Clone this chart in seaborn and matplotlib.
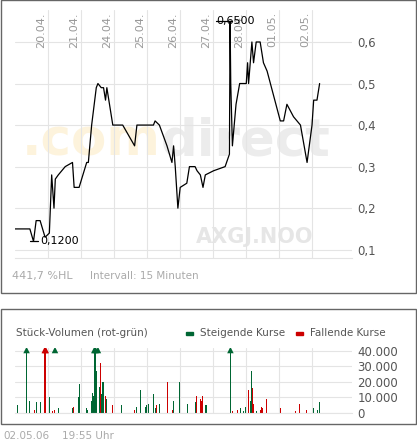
import numpy as np
import pandas as pd
import seaborn as sns
import matplotlib.pyplot as plt
from matplotlib.patches import Rectangle
from matplotlib.ticker import FuncFormatter

# --------------------- data ---------------------
date_labels = ["20.04.", "21.04.", "24.04.", "25.04.", "26.04.", "27.04.", "28.04.", "01.05.", "02.05."]

# x in "day units" (gridline i = date_labels[i-1])
price_x = [0.00, 0.45, 0.56, 0.64, 0.76, 0.91, 1.04, 1.11, 1.18, 1.22, 1.31, 1.52, 1.74, 1.79,
           1.94, 2.17, 2.22, 2.32, 2.46, 2.51, 2.61, 2.68, 2.74, 2.78, 2.96, 3.26, 3.62, 3.69,
           4.19, 4.24, 4.37, 4.60, 4.75, 4.80, 4.85, 4.93, 5.00, 5.20, 5.28, 5.45, 5.51, 5.61,
           5.69, 5.76, 6.01, 6.36, 6.49, 6.51, 6.53, 6.58, 6.69, 6.80, 7.00, 7.04, 7.07, 7.17,
           7.22, 7.30, 7.42, 7.52, 7.63, 8.03, 8.13, 8.23, 8.43, 8.64, 8.84, 8.99, 9.04, 9.14, 9.22]
price_y = [0.15, 0.15, 0.12, 0.17, 0.17, 0.13, 0.14, 0.28, 0.20, 0.27, 0.28, 0.30, 0.31, 0.25,
           0.25, 0.31, 0.31, 0.40, 0.49, 0.50, 0.49, 0.49, 0.46, 0.49, 0.40, 0.40, 0.35, 0.40,
           0.40, 0.41, 0.40, 0.35, 0.31, 0.35, 0.30, 0.20, 0.25, 0.26, 0.30, 0.30, 0.29, 0.28,
           0.25, 0.28, 0.29, 0.30, 0.33, 0.65, 0.50, 0.35, 0.45, 0.50, 0.50, 0.55, 0.50, 0.60,
           0.55, 0.60, 0.60, 0.55, 0.53, 0.41, 0.41, 0.45, 0.42, 0.40, 0.31, 0.40, 0.46, 0.46, 0.50]

vol_x = [0.07, 0.12, 0.35, 0.43, 0.59, 0.66, 0.77, 0.90, 0.93, 1.04, 1.13, 1.19, 1.21, 1.31,
         1.74, 1.76, 1.92, 1.95, 2.16, 2.19, 2.27, 2.31, 2.34, 2.37, 2.40, 2.42, 2.44, 2.46,
         2.48, 2.51, 2.55, 2.58, 2.61, 2.65, 2.68, 2.75, 2.77, 2.95, 3.22, 3.62, 3.68, 3.80,
         3.95, 3.99, 4.05, 4.09, 4.15, 4.19, 4.25, 4.28, 4.37, 4.62, 4.77, 4.80, 4.93, 4.98,
         5.22, 5.27, 5.46, 5.49, 5.62, 5.65, 5.68, 5.76, 5.79, 6.36, 6.45, 6.48, 6.52, 6.58,
         6.63, 6.66, 6.73, 6.82, 6.92, 6.97, 7.02, 7.07, 7.13, 7.16, 7.19, 7.22, 7.30, 7.44,
         7.47, 7.50, 7.62, 8.03, 8.11, 8.20, 8.48, 8.62, 8.82, 9.04, 9.14, 9.16, 9.22]
vol_k = [5, 1, 42, 8, 2, 7, 7, 42, 42, 10, 1, 2, 42, 3,
         3, 4, 10, 19, 3, 2, 2, 8, 13, 11, 42, 35, 42, 27,
         40, 42, 17, 32, 12, 20, 20, 11, 9, 5, 5, 2, 4, 15,
         4, 5, 6, 1, 3, 12, 3, 5, 6, 20, 2, 8, 1, 20,
         6, 5, 7, 11, 9, 8, 11, 5, 5, 3, 5, 5, 42, 1,
         10, 3, 2, 3, 1, 4, 4, 15, 8, 27, 16, 6, 1, 2,
         4, 3, 9, 3, 2, 1, 1, 6, 2, 3, 5, 2, 7]
vol_dir = list("ggggrggrrg" "rrgggrgggg" "gggggggggg" "grgggrgrgr" "gggggggggr"
               "grrgrggggr" "rrrggggggr" "ggrggggrgg" "rrgrrrrrgg" "rrrgggg")

GREEN = "#006633"
RED = "#cc0000"
GRAY = "#555555"
LIGHT = "#999999"

sns.set_style("white")
plt.rcParams["font.family"] = ["DejaVu Sans"]

fig = plt.figure(figsize=(4.17, 4.43), dpi=100)

# panel frames
fig.patches.append(Rectangle((0.5 / 417, 1 - 293 / 443), 415 / 417, 293 / 443, transform=fig.transFigure,
                             fill=False, edgecolor="#666666", lw=1))
fig.patches.append(Rectangle((0.5 / 417, 1 - 424 / 443), 415 / 417, 115 / 443, transform=fig.transFigure,
                             fill=False, edgecolor="#666666", lw=1))

# --------------------- price chart ---------------------
ax = fig.add_axes([15 / 417, 1 - 258 / 443, 337 / 417, 248 / 443])
ax.patch.set_alpha(0)

# watermark, behind everything in the axes
wm1 = ax.text(7 / 337, 0.47, ".com", transform=ax.transAxes, fontsize=37, fontweight="bold",
              color="#fdf3dc", va="center", zorder=-5)
fig.canvas.draw()
bb = wm1.get_window_extent().transformed(ax.transAxes.inverted())
ax.text(bb.x1, 0.47, "direct", transform=ax.transAxes, fontsize=37, fontweight="bold",
        color="#ececec", va="center", zorder=-5)
ax.text(181 / 337, 21 / 248, "AXGJ.NOO", transform=ax.transAxes, fontsize=15, fontweight="bold",
        color="#e6e6e6", va="center", zorder=-5)

price_df = pd.DataFrame({"x": price_x, "y": price_y})
sns.lineplot(data=price_df, x="x", y="y", ax=ax, color="black", lw=0.9, zorder=3)
ax.set_xlim(0, 10.2)
ax.set_ylim(0.08, 0.677)
ax.set_xticks(range(1, 10))
ax.set_xticklabels([])
ax.set_yticks([0.1, 0.2, 0.3, 0.4, 0.5, 0.6])
ax.yaxis.set_major_formatter(FuncFormatter(lambda v, p: f"{v:.1f}".replace(".", ",")))
ax.yaxis.tick_right()
ax.tick_params(axis="y", length=0, labelsize=8.5, labelcolor=GRAY, pad=4)
ax.tick_params(axis="x", length=0)
ax.grid(True, color="#e4e4e4", lw=0.8, zorder=-10)
ax.set_axisbelow(True)
for s in ["top", "left", "right"]:
    ax.spines[s].set_visible(False)
ax.spines["bottom"].set_color("#e4e4e4")
ax.set_xlabel("")
ax.set_ylabel("")
for i, lab in enumerate(date_labels):
    ax.text(i + 1 - 0.05, 0.672, lab, rotation=90, ha="right", va="top", fontsize=8, color=LIGHT)

imax = int(np.argmax(price_y))
imin = int(np.argmin(price_y))
ax.plot([price_x[imax] - 0.42, price_x[imax] + 0.05], [price_y[imax]] * 2, color="black", lw=0.9)
ax.text(price_x[imax] - 0.42, price_y[imax], "0,6500", fontsize=8, va="center", ha="left", color="black")
ax.plot([price_x[imin] - 0.1, price_x[imin] + 0.15], [price_y[imin]] * 2, color="black", lw=0.9)
ax.text(price_x[imin] + 0.2, price_y[imin], "0,1200", fontsize=8, va="center", ha="left", color="black")

fig.text(12 / 417, 1 - 276 / 443, "441,7 %HL", fontsize=8, color="#aaaaaa", va="center")
fig.text(90 / 417, 1 - 276 / 443, "Intervall: 15 Minuten", fontsize=7.5, color="#aaaaaa", va="center")

# --------------------- volume chart ---------------------
bx = fig.add_axes([15 / 417, 1 - 413 / 443, 337 / 417, 65 / 443])
bx.patch.set_alpha(0)
vol = np.array(vol_k) * 1000
cols = np.array([GREEN if c == "g" else RED for c in vol_dir])
bx.bar(vol_x, vol, width=0.022, color=cols, linewidth=0)
top = 41900
over = vol > top * 0.99
bx.scatter(np.array(vol_x)[over], np.full(over.sum(), 40600), marker="^", s=22,
           c=cols[over], zorder=5, linewidths=0)
bx.set_xlim(0, 10.2)
bx.set_ylim(0, top)
bx.set_xticks(range(1, 10))
bx.set_xticklabels([])
bx.set_yticks([0, 10000, 20000, 30000, 40000])
bx.yaxis.set_major_formatter(FuncFormatter(lambda v, p: f"{int(v):,}".replace(",", ".")))
bx.yaxis.tick_right()
bx.tick_params(axis="y", length=0, labelsize=8.5, labelcolor=GRAY, pad=4)
bx.tick_params(axis="x", length=0)
bx.grid(True, color="#e4e4e4", lw=0.8)
bx.set_axisbelow(True)
for s in ["top", "left", "right"]:
    bx.spines[s].set_visible(False)
bx.spines["bottom"].set_color("#e4e4e4")

fig.text(16 / 417, 1 - 333 / 443, "Stück-Volumen (rot-grün)", fontsize=7.5, color=GRAY, va="center")
fig.patches.append(Rectangle((186 / 417, 1 - 334.5 / 443), 7 / 417, 2.5 / 443, transform=fig.transFigure,
                             color=GREEN))
fig.text(200 / 417, 1 - 333 / 443, "Steigende Kurse", fontsize=7.5, color=GRAY, va="center")
fig.patches.append(Rectangle((296 / 417, 1 - 334.5 / 443), 7 / 417, 2.5 / 443, transform=fig.transFigure,
                             color=RED))
fig.text(310 / 417, 1 - 333 / 443, "Fallende Kurse", fontsize=7.5, color=GRAY, va="center")

fig.text(3 / 417, 1 - 436 / 443, "02.05.06", fontsize=7.5, color="#aaaaaa", va="center")
fig.text(62 / 417, 1 - 436 / 443, "19:55 Uhr", fontsize=7.5, color="#aaaaaa", va="center")

fig.savefig("out.png", dpi=100)
